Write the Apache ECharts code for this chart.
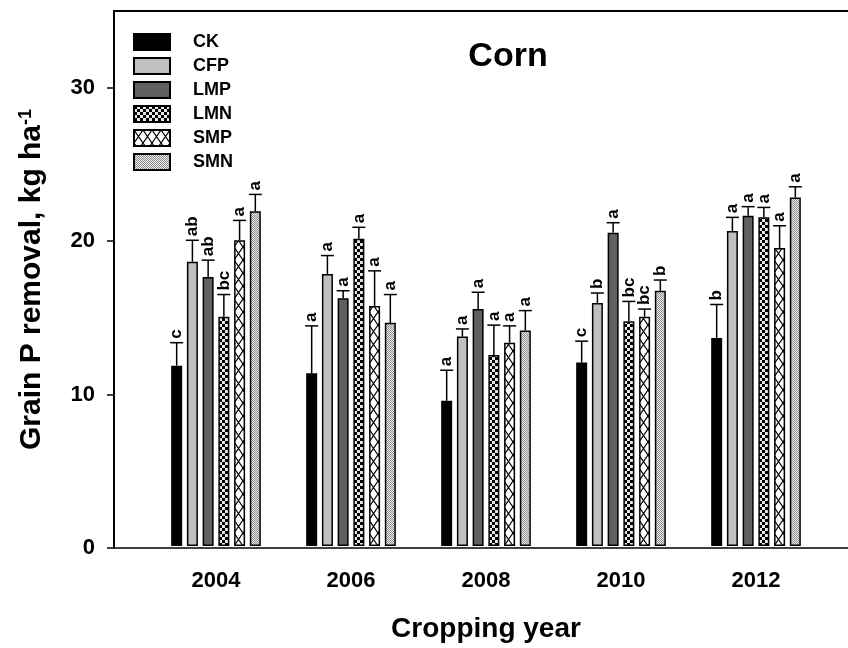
<!DOCTYPE html>
<html>
<head>
<meta charset="utf-8">
<script src="https://cdn.jsdelivr.net/npm/echarts@6/dist/echarts.min.js"></script>
<style>
html, body { margin: 0; padding: 0; background: #fff; }
#chart { width: 848px; height: 648px; }
</style>
</head>
<body>
<div id="chart"></div>
<script>
// grain P removal, corn
const years = ['2004', '2006', '2008', '2010', '2012']
const treatments = ['CK', 'CFP', 'LMP', 'LMN', 'SMP', 'SMN']
const yTicks = [0, 10, 20, 30]

const meanCK = [11.8, 11.3, 9.5, 12.0, 13.6]
const meanCFP = [18.6, 17.8, 13.7, 15.9, 20.6]
const meanLMP = [17.6, 16.2, 15.5, 20.5, 21.6]
const meanLMN = [15.0, 20.1, 12.5, 14.7, 21.5]
const meanSMP = [20.0, 15.7, 13.3, 15.0, 19.5]
const meanSMN = [21.9, 14.6, 14.1, 16.7, 22.8]

const errCK = [1.5, 3.1, 2.0, 1.4, 2.2]
const errCFP = [1.4, 1.2, 0.5, 0.65, 0.9]
const errLMP = [1.1, 0.5, 1.1, 0.65, 0.6]
const errLMN = [1.45, 0.75, 1.95, 1.3, 0.65]
const errSMP = [1.3, 2.3, 1.1, 0.5, 1.45]
const errSMN = [1.1, 1.85, 1.3, 0.7, 0.7]

const letCK = ['c', 'a', 'a', 'c', 'b']
const letCFP = ['ab', 'a', 'a', 'b', 'a']
const letLMP = ['ab', 'a', 'a', 'a', 'a']
const letLMN = ['bc', 'a', 'a', 'bc', 'a']
const letSMP = ['a', 'a', 'a', 'bc', 'a']
const letSMN = ['a', 'a', 'a', 'b', 'a']

const means = [meanCK, meanCFP, meanLMP, meanLMN, meanSMP, meanSMN]
const errs = [errCK, errCFP, errLMP, errLMN, errSMP, errSMN]
const letters = [letCK, letCFP, letLMP, letLMN, letSMP, letSMN]

const FONT = '"Liberation Sans", Arial, sans-serif'
const BAR_W = 11
const BAR_GAP = 0.43
const PITCH = BAR_W * (1 + BAR_GAP)
const CAP = 13

function tile(w, h, draw) {
  const c = document.createElement('canvas')
  c.width = w
  c.height = h
  draw(c.getContext('2d'), w, h)
  return { image: c, repeat: 'repeat' }
}

// fills
const checker = tile(6, 6, (ctx) => {
  ctx.fillStyle = '#e6e6e6'
  ctx.fillRect(0, 0, 6, 6)
  ctx.fillStyle = '#000'
  ctx.fillRect(0, 0, 3, 3)
  ctx.fillRect(3, 3, 3, 3)
})
const cross = tile(9, 13, (ctx, w, h) => {
  ctx.fillStyle = '#fff'
  ctx.fillRect(0, 0, w, h)
  ctx.strokeStyle = '#000'
  ctx.lineWidth = 1.2
  ctx.beginPath()
  ctx.moveTo(0, 0); ctx.lineTo(w, h)
  ctx.moveTo(w, 0); ctx.lineTo(0, h)
  ctx.stroke()
})
const dots = tile(2, 2, (ctx) => {
  ctx.fillStyle = '#ececec'
  ctx.fillRect(0, 0, 2, 2)
  ctx.fillStyle = '#8c8c8c'
  ctx.fillRect(0, 0, 1, 1)
  ctx.fillRect(1, 1, 1, 1)
})
const fills = ['#000', '#c0c0c0', '#606060', checker, cross, dots]

const errData = []
const errLetters = []
treatments.forEach((name, t) => {
  years.forEach((y, i) => {
    errData.push([i, t, means[t][i], errs[t][i]])
    errLetters.push(letters[t][i])
  })
})

const chart = echarts.init(document.getElementById('chart'))

const barSeries = treatments.map((name, t) => ({
  name: name,
  type: 'bar',
  xAxisIndex: 0,
  yAxisIndex: 0,
  data: means[t],
  barWidth: BAR_W,
  barGap: (BAR_GAP * 100) + '%',
  itemStyle: { color: fills[t], borderColor: '#000', borderWidth: 1.5 }
}))

const option = {
  animation: false,
  title: {
    text: 'Corn',
    left: 503,
    top: 35,
    textAlign: 'center',
    textStyle: { fontFamily: FONT, fontSize: 34, fontWeight: 'bold', color: '#000' }
  },
  legend: {
    data: treatments,
    orient: 'vertical',
    left: 133,
    top: 33,
    padding: 0,
    itemWidth: 36,
    itemHeight: 16,
    itemGap: 6,
    icon: 'rect',
    textStyle: { fontFamily: FONT, fontSize: 18, fontWeight: 'bold', color: '#000', padding: [0, 0, 0, 18] }
  },
  grid: [
    { left: 148.5, right: 24.5, top: 11, bottom: 100 },
    { left: 114, right: 0, top: 11, bottom: 100 }
  ],
  xAxis: [
    {
      type: 'category',
      gridIndex: 0,
      data: years,
      axisLine: { show: false },
      axisTick: { alignWithLabel: true, length: 7, lineStyle: { color: '#000', width: 1.5 } },
      axisLabel: { margin: 24, fontFamily: FONT, fontSize: 22, fontWeight: 'bold', color: '#000' },
      name: 'Cropping year',
      nameLocation: 'middle',
      nameGap: 69,
      nameTextStyle: { fontFamily: FONT, fontSize: 28, fontWeight: 'bold', color: '#000' }
    },
    {
      type: 'value', gridIndex: 1, min: 0, max: 1,
      axisLine: { show: true, onZero: false, lineStyle: { color: '#000', width: 1.5 } },
      axisTick: { show: false }, axisLabel: { show: false }, splitLine: { show: false }
    },
    {
      type: 'value', gridIndex: 1, position: 'top', min: 0, max: 1,
      axisLine: { show: true, onZero: false, lineStyle: { color: '#000', width: 2 } },
      axisTick: { show: false }, axisLabel: { show: false }, splitLine: { show: false }
    }
  ],
  yAxis: [
    { type: 'value', gridIndex: 0, min: 0, max: 35, show: false },
    {
      type: 'value',
      gridIndex: 1,
      min: 0,
      max: 35,
      interval: 10,
      axisLine: { show: true, lineStyle: { color: '#000', width: 2 } },
      axisTick: { show: true, length: 7, customValues: yTicks, lineStyle: { color: '#000', width: 1.5 } },
      axisLabel: { customValues: yTicks, margin: 19, fontFamily: FONT, fontSize: 22, fontWeight: 'bold', color: '#000' },
      splitLine: { show: false },
      name: '{a|Grain P removal, kg ha}{s|-1}',
      nameLocation: 'middle',
      nameRotate: 90,
      nameGap: 67,
      nameTextStyle: {
        fontFamily: FONT, fontSize: 30, fontWeight: 'bold', color: '#000',
        rich: {
          a: { fontFamily: FONT, fontSize: 30, fontWeight: 'bold', color: '#000' },
          s: { fontFamily: FONT, fontSize: 18, fontWeight: 'bold', color: '#000', verticalAlign: 'top', padding: [0, 0, 12, 0] }
        }
      }
    }
  ],
  series: barSeries.concat([{
    type: 'custom',
    xAxisIndex: 0,
    yAxisIndex: 0,
    data: errData,
    encode: { x: 0, y: 2 },
    z: 5,
    silent: true,
    renderItem: function (params, api) {
      const t = api.value(1)
      const m = api.value(2)
      const e = api.value(3)
      const base = api.coord([api.value(0), m])
      const top = api.coord([api.value(0), m + e])
      const x = base[0] + (t - 2.5) * PITCH
      return {
        type: 'group',
        children: [
          { type: 'line', shape: { x1: x, y1: base[1], x2: x, y2: top[1] }, style: { stroke: '#000', lineWidth: 1.5 } },
          { type: 'line', shape: { x1: x - CAP / 2, y1: top[1], x2: x + CAP / 2, y2: top[1] }, style: { stroke: '#000', lineWidth: 1.5 } },
          {
            type: 'text',
            x: x,
            y: top[1] - 4,
            rotation: Math.PI / 2,
            style: {
              text: errLetters[params.dataIndex],
              fontFamily: FONT, fontSize: 17, fontWeight: 'bold',
              fill: '#000', align: 'left', verticalAlign: 'middle'
            }
          }
        ]
      }
    }
  }])
}

chart.setOption(option)
</script>
</body>
</html>
